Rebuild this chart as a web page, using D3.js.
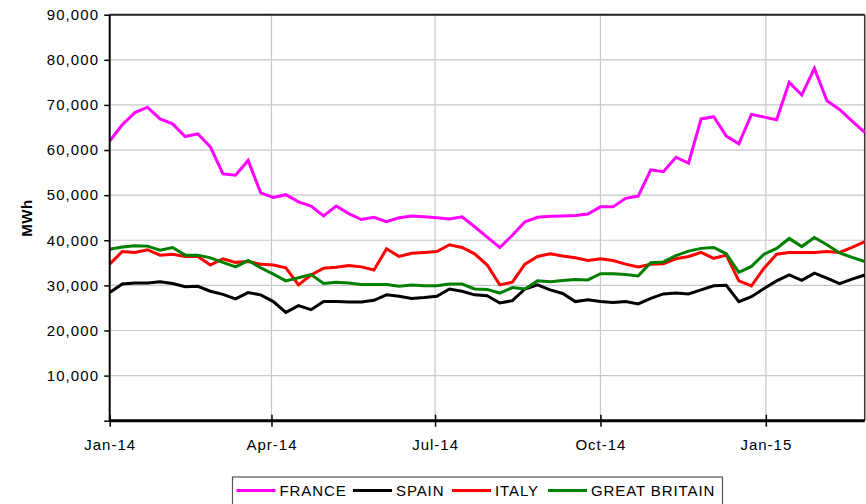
<!DOCTYPE html>
<html>
<head>
<meta charset="utf-8">
<script src="https://cdn.jsdelivr.net/npm/d3@7"></script>
<style>
  body { margin: 0; background: #fff; }
  text { font-family: "Liberation Sans", Arial, sans-serif; fill: #000; }
</style>
</head>
<body>
<div class="chart"></div>
<script>
// weekly dates
var weeks = [
  "2014-01-01","2014-01-08","2014-01-15","2014-01-22","2014-01-29",
  "2014-02-05","2014-02-12","2014-02-19","2014-02-26",
  "2014-03-05","2014-03-12","2014-03-19","2014-03-26",
  "2014-04-02","2014-04-09","2014-04-16","2014-04-23","2014-04-30",
  "2014-05-07","2014-05-14","2014-05-21","2014-05-28",
  "2014-06-04","2014-06-11","2014-06-18","2014-06-25",
  "2014-07-02","2014-07-09","2014-07-16","2014-07-23","2014-07-30",
  "2014-08-06","2014-08-13","2014-08-20","2014-08-27",
  "2014-09-03","2014-09-10","2014-09-17","2014-09-24",
  "2014-10-01","2014-10-08","2014-10-15","2014-10-22","2014-10-29",
  "2014-11-05","2014-11-12","2014-11-19","2014-11-26",
  "2014-12-03","2014-12-10","2014-12-17","2014-12-24","2014-12-31",
  "2015-01-07","2015-01-14","2015-01-21","2015-01-28",
  "2015-02-04","2015-02-11","2015-02-18","2015-02-25"
];

var france = [
  62000, 65600, 68300, 69500, 66900, 65800, 63000, 63600, 60700, 54700,
  54400, 57700, 50500, 49500, 50100, 48500, 47600, 45400, 47600, 45900,
  44600, 45100, 44100, 45000, 45400, 45200, 45000, 44700, 45200, 43000,
  40700, 38400, 41100, 44100, 45100, 45300, 45400, 45500, 45800, 47400,
  47400, 49300, 49800, 55600, 55200, 58400, 57100, 66900, 67400, 63100,
  61400, 67900, 67300, 66700, 75000, 72200, 78100, 70900, 69000, 66400,
  63900
];

var spain = [
  28400, 30300, 30500, 30500, 30800, 30400, 29700, 29800, 28700, 28000,
  27000, 28400, 27900, 26400, 24000, 25500, 24600, 26400, 26400, 26300,
  26300, 26700, 27900, 27600, 27100, 27300, 27600, 29200, 28700, 27900,
  27700, 26100, 26600, 29200, 30100, 29000, 28200, 26400, 26800, 26400,
  26200, 26400, 25900, 27100, 28100, 28300, 28100, 29000, 29900, 30000,
  26400, 27500, 29300, 31000, 32300, 31100, 32700, 31600, 30400, 31400,
  32300
];

var italy = [
  34700, 37500, 37300, 37900, 36700, 36900, 36400, 36400, 34500, 35900,
  35100, 35300, 34700, 34500, 33900, 30100, 32300, 33800, 34000, 34400,
  34100, 33400, 38100, 36400, 37100, 37300, 37500, 39000, 38400, 37000,
  34500, 30100, 30700, 34700, 36400, 37000, 36500, 36100, 35500, 35900,
  35500, 34700, 34100, 34700, 34800, 35900, 36400, 37300, 36000, 36700,
  31000, 29900, 33800, 36900, 37300, 37300, 37300, 37500, 37300, 38400,
  39700
];

var britain = [
  38000, 38500, 38800, 38700, 37800, 38400, 36700, 36700, 36100, 35100,
  34100, 35500, 33900, 32500, 31000, 31700, 32400, 30400, 30700, 30500,
  30200, 30200, 30200, 29800, 30100, 29900, 29900, 30300, 30300, 29200,
  29100, 28300, 29500, 29200, 31000, 30800, 31100, 31300, 31200, 32600,
  32600, 32400, 32100, 35000, 35200, 36600, 37600, 38200, 38400, 37000,
  32900, 34200, 36900, 38200, 40400, 38600, 40600, 39000, 37200, 36200,
  35300
];

var seriesNames = ["FRANCE", "SPAIN", "ITALY", "GREAT BRITAIN"];
var seriesColors = ["#ff00ff", "#000000", "#ff0000", "#008000"];
var yTicks = [0, 10000, 20000, 30000, 40000, 50000, 60000, 70000, 80000, 90000];
var xTicks = ["2014-01-01", "2014-04-01", "2014-07-01", "2014-10-01", "2015-01-01"];

var svgWidth = 866;
var svgHeight = 504;
var margin = { top: 14.7, right: 1.3, bottom: 83.3, left: 109.7 };
var width = svgWidth - margin.left - margin.right;
var height = svgHeight - margin.top - margin.bottom;

var parseDate = d3.timeParse("%Y-%m-%d");
var dates = weeks.map(parseDate);

var svg = d3.select(".chart")
  .append("svg")
  .attr("width", svgWidth)
  .attr("height", svgHeight);

var chart = svg.append("g")
  .attr("transform", "translate(" + margin.left + "," + margin.top + ")");

var xScale = d3.scaleTime()
  .domain([dates[0], dates[dates.length - 1]])
  .range([0, width]);

var yScale = d3.scaleLinear()
  .domain([0, 90000])
  .range([height, 0]);

// gridlines
chart.append("g")
  .selectAll("line")
  .data(yTicks.slice(1))
  .enter().append("line")
  .attr("x1", 0)
  .attr("x2", width)
  .attr("y1", function (d) { return yScale(d); })
  .attr("y2", function (d) { return yScale(d); })
  .attr("stroke", "#c8c8c8")
  .attr("stroke-width", 1.2);

chart.append("g")
  .selectAll("line")
  .data(xTicks.slice(1).map(parseDate))
  .enter().append("line")
  .attr("x1", function (d) { return xScale(d); })
  .attr("x2", function (d) { return xScale(d); })
  .attr("y1", 0)
  .attr("y2", height)
  .attr("stroke", "#c8c8c8")
  .attr("stroke-width", 1.2);

// plot border (top/right)
chart.append("line")
  .attr("x1", 0).attr("x2", width)
  .attr("y1", 0).attr("y2", 0)
  .attr("stroke", "#222").attr("stroke-width", 2);
chart.append("line")
  .attr("x1", width).attr("x2", width)
  .attr("y1", 0).attr("y2", height)
  .attr("stroke", "#333").attr("stroke-width", 1.5);

// series lines
var allSeries = [france, spain, italy, britain];
var line = d3.line()
  .x(function (d, i) { return xScale(dates[i]); })
  .y(function (d) { return yScale(d); });

chart.selectAll(".series")
  .data(allSeries)
  .enter().append("path")
  .attr("class", "series")
  .attr("d", line)
  .attr("fill", "none")
  .attr("stroke", function (d, i) { return seriesColors[i]; })
  .attr("stroke-width", 3)
  .attr("stroke-linejoin", "miter");

// axes
var leftAxis = d3.axisLeft(yScale)
  .tickValues(yTicks)
  .tickSize(5.5)
  .tickPadding(5)
  .tickFormat(function (d) { return d === 0 ? "" : d3.format(",")(d); });

var bottomAxis = d3.axisBottom(xScale)
  .tickValues(xTicks.map(parseDate))
  .tickSize(6)
  .tickPadding(13)
  .tickFormat(d3.timeFormat("%b-%y"));

var yAxisG = chart.append("g").call(leftAxis);
yAxisG.select(".domain").attr("stroke", "#000").attr("stroke-width", 2)
  .attr("d", "M0," + height + "V0");
yAxisG.selectAll(".tick line").attr("stroke", "#000").attr("stroke-width", 1.5);
yAxisG.selectAll("text")
  .style("font-size", "15px")
  .style("letter-spacing", "1.1px")
  .style("font-family", "'Liberation Sans', Arial, sans-serif");

var xAxisG = chart.append("g")
  .attr("transform", "translate(0," + height + ")")
  .call(bottomAxis);
xAxisG.select(".domain").attr("stroke", "#000").attr("stroke-width", 3)
  .attr("d", "M0,0H" + width);
xAxisG.selectAll(".tick line")
  .attr("y1", -6).attr("y2", 6)
  .attr("stroke", "#000").attr("stroke-width", 1.5);
xAxisG.selectAll("text")
  .style("font-size", "15px")
  .style("letter-spacing", "1px")
  .style("font-family", "'Liberation Sans', Arial, sans-serif");

// y axis title
svg.append("text")
  .attr("transform", "translate(32," + 218 + ") rotate(-90)")
  .attr("text-anchor", "middle")
  .style("font-size", "15px")
  .style("font-weight", "bold")
  .style("letter-spacing", "0.6px")
  .text("MWh");

// legend
var legend = svg.append("g");
legend.append("rect")
  .attr("x", 232.5).attr("y", 477)
  .attr("width", 490).attr("height", 32)
  .attr("fill", "#fff")
  .attr("stroke", "#555")
  .attr("stroke-width", 1.2);

var legendX = [236.5, 353, 452, 548];
var legendItem = legend.selectAll(".legend-item")
  .data(seriesNames)
  .enter().append("g")
  .attr("class", "legend-item")
  .attr("transform", function (d, i) { return "translate(" + legendX[i] + ",0)"; });

legendItem.append("line")
  .attr("x1", 0).attr("x2", 39)
  .attr("y1", 490.5).attr("y2", 490.5)
  .attr("stroke", function (d, i) { return seriesColors[i]; })
  .attr("stroke-width", 3);

legendItem.append("text")
  .attr("x", 43)
  .attr("y", 496)
  .style("font-size", "15px")
  .style("letter-spacing", "0.9px")
  .text(function (d) { return d; });
</script>
</body>
</html>
